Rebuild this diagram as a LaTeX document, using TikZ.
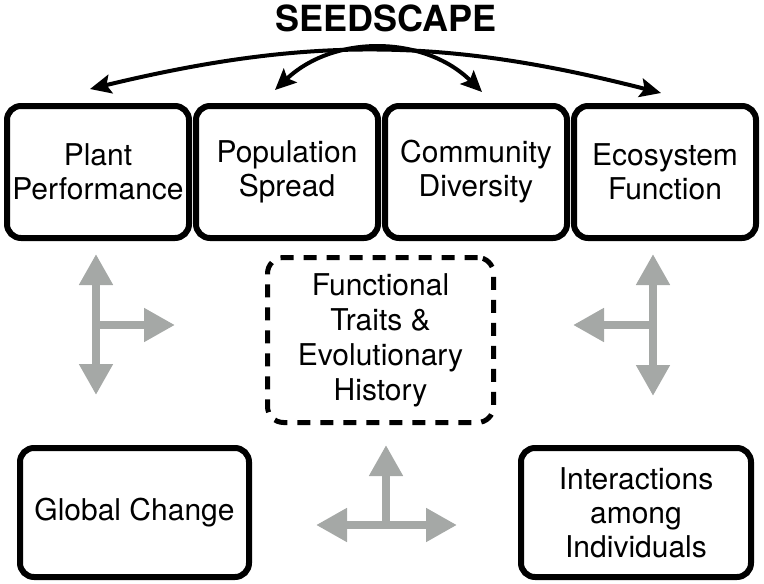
\documentclass[tikz,border=0pt]{standalone}
\usepackage{fontspec}
\setmainfont{TeX Gyre Heros}
\usetikzlibrary{positioning,arrows.meta}
\definecolor{arrowgrey}{RGB}{165,168,166}

\begin{document}
\begin{tikzpicture}[x=1pt,y=-1pt,
  box/.style={draw,line width=6pt,rounded corners=14pt,align=center,inner sep=0pt,
    minimum width=182pt,minimum height=132pt,font=\fontsize{30}{34}\selectfont},
  traitbox/.style={box,dashed,line width=5pt,dash pattern=on 13pt off 10pt,rounded corners=16pt,
    minimum width=226pt,minimum height=165pt,font=\fontsize{30}{35}\selectfont},
  greyarrow/.style={draw=arrowgrey,line width=8pt,-{Triangle[length=31pt,width=32pt]}},
  greyboth/.style={greyarrow,{Triangle[length=31pt,width=32pt]}-{Triangle[length=31pt,width=32pt]}},
  linkarrow/.style={line width=4pt,{Stealth[length=21pt,width=19pt,inset=4pt]}-{Stealth[length=21pt,width=19pt,inset=4pt]}}]
  \useasboundingbox (0,0) rectangle (764,584);

  % title
  \node[anchor=base,font=\fontsize{36}{40}\selectfont\bfseries] (seedscape) at (386,31) {SEEDSCAPE};

  % top row
  \node[box] (plant) at (98,172) {Plant\\Performance};
  \node[box,right=1pt of plant] (pop) {Population\\Spread};
  \node[box,right=1pt of pop] (comm) {Community\\Diversity};
  \node[box,right=1pt of comm] (eco) {Ecosystem\\Function};

  % middle and bottom
  \node[traitbox] (traits) at (380.5,340) {Functional\\Traits \&\\Evolutionary\\History};
  \node[box,minimum width=229pt,minimum height=129pt] (global) at (134.5,512.5) {Global Change};
  \node[box,minimum width=230pt,minimum height=129pt] (inter) at (636,512.5) {Interactions\\among\\Individuals};

  % black links between the scales
  \draw[linkarrow] ([xshift=-8pt,yshift=14pt]plant.north) to[bend left=14] ([xshift=-4pt,yshift=10pt]eco.north);
  \draw[linkarrow] ([xshift=-12pt,yshift=13pt]pop.north) to[bend left=44] ([xshift=6pt,yshift=11pt]comm.north);

  % grey arrows
  \coordinate (lUp) at (96,254);
  \coordinate (lDown) at (96,395);
  \coordinate (lMid) at (96,325);
  \coordinate (lEnd) at (175,325);
  \coordinate (rUp) at (653,254);
  \coordinate (rDown) at (653,396);
  \coordinate (rMid) at (653,325);
  \coordinate (rEnd) at (573,325);
  \coordinate (bUp) at (386,445);
  \coordinate (bMid) at (386,525);
  \coordinate (bLeft) at (316,525);
  \coordinate (bRight) at (457,525);

  \draw[greyboth] (lUp) -- (lDown);
  \draw[greyarrow] (lMid) -- (lEnd);
  \draw[greyboth] (rUp) -- (rDown);
  \draw[greyarrow] (rMid) -- (rEnd);
  \draw[greyboth] (bLeft) -- (bRight);
  \draw[greyarrow] (bMid) -- (bUp);
\end{tikzpicture}
\end{document}
